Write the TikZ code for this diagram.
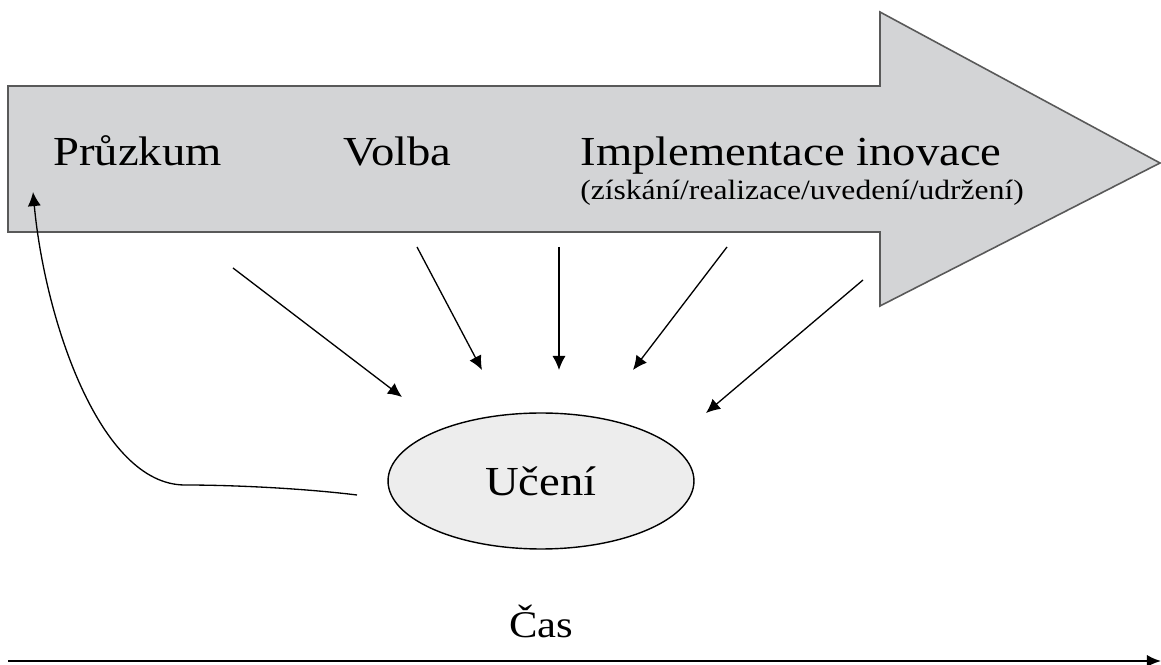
\documentclass[tikz,border=0pt]{standalone}
\usepackage{fontspec}
\setmainfont[FakeStretch=1.13]{Liberation Serif}
\usetikzlibrary{arrows.meta,shapes.geometric}
\definecolor{arrowgray}{RGB}{211,212,214}
\definecolor{ovalgray}{RGB}{237,237,237}
\tikzset{
  flow/.style={line width=0.75pt,-{Latex[length=8pt,width=7.5pt]}},
  phase/.style={font=\fontsize{23.5pt}{26pt}\selectfont,anchor=base,inner sep=0pt}
}
\begin{document}
\begin{tikzpicture}[x=0.02cm,y=-0.02cm]
\useasboundingbox (0,0) rectangle (1161,665);
% big arrow
\draw[fill=arrowgray,draw=black!65,line width=0.9pt]
  (8,86) -- (880,86) -- (880,12) -- (1160,163) -- (880,306) -- (880,232) -- (8,232) -- cycle;
\node[phase] (pruzkum) at (137.5,166) {Průzkum};
\node[phase] (volba) at (397.5,166) {Volba};
\node[phase] (impl) at (791,166) {Implementace inovace};
\node[phase,font=\fontsize{15.9pt}{18pt}\selectfont] (sub) at (802,200) {(získání/realizace/uvedení/udržení)};
% learning
\node[draw,fill=ovalgray,line width=0.8pt,ellipse,minimum width=6.12cm,minimum height=2.72cm,inner sep=0pt,font=\fontsize{23.5pt}{26pt}\selectfont] (uceni) at (541,481) {Učení};
\coordinate (a1) at (233,268); \coordinate (b1) at (402,397);
\coordinate (a2) at (417,247); \coordinate (b2) at (482,370);
\coordinate (a3) at (559,247); \coordinate (b3) at (559,370);
\coordinate (a4) at (727,247); \coordinate (b4) at (633,370);
\coordinate (a5) at (863,280); \coordinate (b5) at (706,413);
\foreach \i in {1,...,5}
  \draw[flow] (a\i) -- (b\i);
% feedback
\coordinate (fb) at (357,495);
\coordinate (fe) at (33,192);
\draw[flow] (fb) .. controls (300,488) and (230,485) .. (185,485)
  .. controls (100,485) and (45,320) .. (fe);
% time axis
\node[phase,font=\fontsize{21.5pt}{24pt}\selectfont] (cas) at (541.5,638) {Čas};
\coordinate (t0) at (8,661);
\coordinate (t1) at (1161,661);
\draw[line width=1.2pt,-{Latex[length=8pt,width=7pt]}] (t0) -- (t1);
\end{tikzpicture}
\end{document}
